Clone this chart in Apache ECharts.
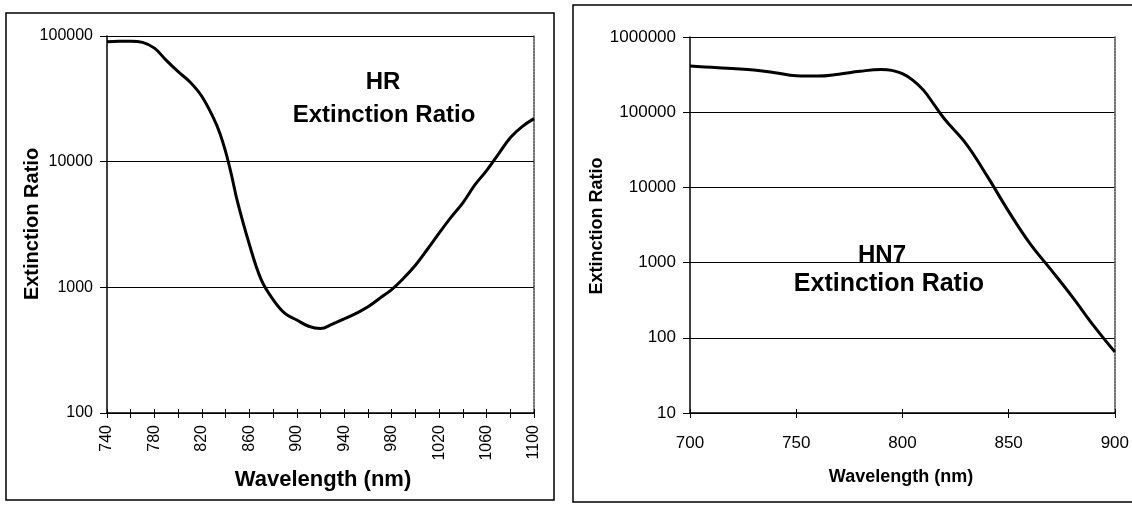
<!DOCTYPE html>
<html>
<head>
<meta charset="utf-8">
<title>Extinction Ratio</title>
<script src="https://cdn.jsdelivr.net/npm/echarts@6/dist/echarts.min.js"></script>
<style>
    html, body { margin: 0; padding: 0; background: #fff; }
    #chart { width: 1132px; height: 506px; }
</style>
</head>
<body>
<div id="chart"></div>
<script>
// ======================
// DATA
// ======================

// HR polarizer (left panel)
const hrWavelength = [740, 750, 760, 770, 780, 790, 800, 810, 820, 830, 835, 840, 845, 850, 860, 870, 880, 890, 900,
    910, 920, 930, 940, 950, 960, 970, 980, 990, 1000, 1010, 1020, 1030, 1040, 1050, 1060, 1070, 1080, 1090, 1100];
const hrRatio = [90000, 91000, 91000, 89000, 80000, 64000, 52000, 43000, 33000, 22000, 17000, 12000, 7800, 4800, 2200,
    1150, 800, 620, 550, 490, 470, 510, 560, 620, 700, 820, 960, 1180, 1500, 2000, 2700, 3600, 4700, 6500, 8500,
    11500, 15500, 19000, 22000];
const hrXLabels = [740, 780, 820, 860, 900, 940, 980, 1020, 1060, 1100];

// HN7 polarizer (right panel)
const hn7Wavelength = [700, 710, 720, 730, 740, 750, 760, 770, 780, 790, 795, 800, 805, 810, 815, 820, 830, 840, 850,
    860, 870, 880, 890, 900];
const hn7Ratio = [410000, 395000, 380000, 365000, 335000, 305000, 302000, 320000, 350000, 370000, 360000, 325000,
    265000, 195000, 125000, 80000, 38000, 14000, 4800, 1800, 800, 350, 145, 65];
const hn7XLabels = [700, 750, 800, 850, 900];

// ======================
// HELPERS
// ======================

const FONT = "'Liberation Sans', Arial, Helvetica, sans-serif";
const pair = (xs, ys) => xs.map((x, i) => [x, ys[i]]);

function xAxisMain(gridIndex, min, max, interval, labels, rotate, margin, fontSize) {
    return {
        gridIndex, type: 'value', min, max, interval, position: 'bottom',
        axisLine: { onZero: false, lineStyle: { color: '#000', width: 1.5 } },
        axisTick: { length: 5, lineStyle: { color: '#000', width: 1 } },
        splitLine: { show: false },
        axisLabel: {
            rotate, margin, fontSize, color: '#000', fontFamily: FONT,
            formatter: v => labels.includes(v) ? String(v) : ''
        }
    };
}

// second axis on the same grid, only for the inward half of the crossing ticks
function xAxisInner(gridIndex, min, max, interval) {
    return {
        gridIndex, type: 'value', min, max, interval, position: 'bottom',
        axisLine: { show: false, onZero: false },
        axisTick: { inside: true, length: 4, lineStyle: { color: '#000', width: 1 } },
        splitLine: { show: false },
        axisLabel: { show: false }
    };
}

function yAxisLog(gridIndex, min, max, fontSize) {
    return {
        gridIndex, type: 'log', logBase: 10, min, max, position: 'left',
        axisLine: { show: true, onZero: false, lineStyle: { color: '#000', width: 1.5 } },
        axisTick: { show: true, length: 7, lineStyle: { color: '#000', width: 1 } },
        minorTick: { show: false },
        splitLine: { show: true, lineStyle: { color: '#000', width: 1 } },
        axisLabel: {
            margin: 14, fontSize, color: '#000', fontFamily: FONT,
            formatter: v => String(Math.round(v))
        }
    };
}

// dotted right edge of the plot area
function yAxisEdge(gridIndex) {
    return {
        gridIndex, type: 'value', min: 0, max: 1, position: 'right',
        axisLine: { show: true, onZero: false, lineStyle: { color: '#444', width: 1.5, type: [2, 1] } },
        axisTick: { show: false }, axisLabel: { show: false }, splitLine: { show: false }
    };
}

function label(text, x, y, size, rotation) {
    return {
        type: 'text', x, y, rotation: rotation || 0,
        style: {
            text, fill: '#000', font: `bold ${size}px ${FONT}`,
            align: 'center', verticalAlign: 'middle'
        }
    };
}

// ======================
// CHART
// ======================

const chart = echarts.init(document.getElementById('chart'), null, { renderer: 'canvas' });

const option = {
    animation: false,
    backgroundColor: '#fff',
    grid: [
        { left: 107, top: 36, width: 427, height: 377 },
        { left: 690, top: 37, width: 425, height: 376 }
    ],
    xAxis: [
        xAxisMain(0, 740, 1100, 20, hrXLabels, 90, 12, 16),
        xAxisInner(0, 740, 1100, 20),
        xAxisMain(1, 700, 900, 50, hn7XLabels, 0, 22, 17),
        xAxisInner(1, 700, 900, 50)
    ],
    yAxis: [
        yAxisLog(0, 100, 100000, 16),
        yAxisEdge(0),
        yAxisLog(1, 10, 1000000, 17),
        yAxisEdge(1)
    ],
    series: [
        {
            name: 'HR', type: 'line', xAxisIndex: 0, yAxisIndex: 0,
            data: pair(hrWavelength, hrRatio),
            smooth: 0.4, showSymbol: false,
            lineStyle: { color: '#000', width: 3 }
        },
        {
            name: 'HN7', type: 'line', xAxisIndex: 2, yAxisIndex: 2,
            data: pair(hn7Wavelength, hn7Ratio),
            smooth: 0.4, showSymbol: false,
            lineStyle: { color: '#000', width: 3 }
        }
    ],
    graphic: [
        // panel frames
        { type: 'rect', shape: { x: 6, y: 13, width: 548, height: 487 },
          style: { fill: 'none', stroke: '#000', lineWidth: 1.5 } },
        { type: 'rect', shape: { x: 573, y: 5, width: 580, height: 497 },
          style: { fill: 'none', stroke: '#000', lineWidth: 1.5 } },
        // left panel texts
        label('Extinction Ratio', 32, 224, 20, Math.PI / 2),
        label('Wavelength (nm)', 323, 480, 22),
        label('HR', 383, 82, 24),
        label('Extinction Ratio', 384, 115, 24),
        // right panel texts
        label('Extinction Ratio', 597, 226, 18, Math.PI / 2),
        label('Wavelength (nm)', 901, 477, 18),
        label('HN7', 882, 255, 24),
        label('Extinction Ratio', 889, 284, 25)
    ]
};

try {
    chart.setOption(option);
} catch (error) {
    console.error('[ExtinctionRatio] setOption error:', error);
}
</script>
</body>
</html>
